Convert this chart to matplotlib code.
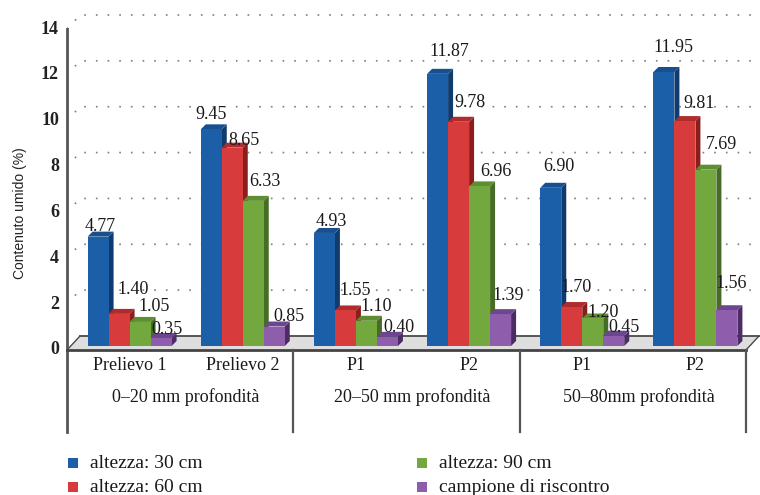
import matplotlib
matplotlib.use("Agg")
import matplotlib.pyplot as plt
from matplotlib.patches import Polygon, Rectangle

# ---- data -------------------------------------------------------------
categories = ["Prelievo 1", "Prelievo 2", "P1", "P2", "P1", "P2"]
depth_groups = ["0–20 mm profondità", "20–50 mm profondità", "50–80mm profondità"]
series_names = ["altezza: 30 cm", "altezza: 60 cm", "altezza: 90 cm",
                "campione di riscontro"]
h30 = [4.77, 9.45, 4.93, 11.87, 6.90, 11.95]
h60 = [1.40, 8.65, 1.55, 9.78, 1.70, 9.81]
h90 = [1.05, 6.33, 1.10, 6.96, 1.20, 7.69]
control = [0.35, 0.85, 0.40, 1.39, 0.45, 1.56]
y_ticks = [0, 2, 4, 6, 8, 10, 12, 14]

series = [h30, h60, h90, control]
# (front, side, top) shades per series
colors = [("#1c5fa9", "#0f3b6f", "#18508f"),
          ("#d83b3b", "#8b1d1d", "#b02c2c"),
          ("#73a83f", "#476c25", "#5e8e31"),
          ("#8e5ead", "#4c2c65", "#6d4690")]

# hand-placed value labels: (right, up) shift in pixels from the top of each bar
label_shift = [
    [(2, 10), (0, 15), (7, 11), (12, 22), (8, 21), (9, 25)],
    [(14, 24), (12, 7), (10, 20), (11, 19), (4, 20), (14, 18)],
    [(14, 15), (12, 19), (10, 14), (16, 15), (10, 6), (16, 25)],
    [(6, 8), (15, 10), (12, 9), (8, 19), (10, 8), (4, 27)],
]

serif = "Liberation Serif"
sans = "Liberation Sans"

W, H, DPI = 760, 495, 100
fig = plt.figure(figsize=(W / DPI, H / DPI), dpi=DPI)
fig.patch.set_facecolor("white")

# front plane of the plot box in pixels
x_left, x_right, y_zero, y_top = 67, 746, 350, 29
ax = fig.add_axes([x_left / W, (H - y_zero) / H,
                   (x_right - x_left) / W, (y_zero - y_top) / H])
n = len(categories)
ax.set_xlim(-0.5, n - 0.5)
ax.set_ylim(0, 14)
ax.axis("off")

# pixel -> data unit helpers
sx = (x_right - x_left) / n          # pixels per category
sy = (y_zero - y_top) / 14.0         # pixels per unit value
px = lambda p: p / sx
py = lambda p: p / sy

# depth offsets (pixels)
back_dx, back_dy = 13, 14           # back wall
bar_dx, bar_dy = 6, 4               # plane of the bars
bar_depth = 5                       # thickness of each bar
bar_w = px(21)

axis_col = "#555555"

# ---- floor ------------------------------------------------------------
fl = [(-0.5, 0), (n - 0.5, 0), (n - 0.5 + px(back_dx), py(back_dy)),
      (-0.5 + px(back_dx), py(back_dy))]
ax.add_patch(Polygon(fl, closed=True, facecolor="#dedede", edgecolor="none",
                     clip_on=False, zorder=1))
ax.plot([fl[3][0], fl[2][0]], [fl[3][1], fl[2][1]], color="#4a4a4a", lw=1.3,
        clip_on=False, zorder=1.5)
ax.plot([fl[0][0], fl[3][0]], [fl[0][1], fl[3][1]], color="#4a4a4a", lw=1.0,
        clip_on=False, zorder=1.5)
ax.plot([fl[1][0], fl[2][0]], [fl[1][1], fl[2][1]], color="#4a4a4a", lw=1.0,
        clip_on=False, zorder=1.5)

# ---- dotted gridlines on the back wall ----------------------------------
x_far = -0.5 + px(W - x_left)
for v in y_ticks[1:]:
    ax.plot([-0.5, -0.5 + px(back_dx), x_far],
            [v, v + py(back_dy), v + py(back_dy)],
            color="#7f7f7f", lw=1.2, ls=(0, (1, 6)), clip_on=False, zorder=0.5)

# ---- bars ---------------------------------------------------------------
d_x, d_y = px(bar_depth), py(bar_depth)
base = py(bar_dy)
for i in range(n):
    start = i - 2 * bar_w + px(bar_dx)
    for k, vals in enumerate(series):
        v = vals[i]
        x0 = start + k * bar_w
        x1 = x0 + bar_w
        top = base + v
        front_c, side_c, top_c = colors[k]
        z = 3 + i * 0.1 + k * 0.01
        ax.add_patch(Polygon([(x1, base), (x1 + d_x, base + d_y),
                              (x1 + d_x, top + d_y), (x1, top)],
                             closed=True, facecolor=side_c, edgecolor="none",
                             zorder=z))
        ax.add_patch(Polygon([(x0, top), (x1, top), (x1 + d_x, top + d_y),
                              (x0 + d_x, top + d_y)],
                             closed=True, facecolor=top_c, edgecolor="none",
                             zorder=z))
        ax.add_patch(Rectangle((x0, base), bar_w, v, facecolor=front_c,
                               edgecolor="none", zorder=z + 0.001))
        sh_x, sh_y = label_shift[k][i]
        ax.annotate(f"{v:.2f}", xy=((x0 + x1) / 2, top), xytext=(sh_x, sh_y),
                    textcoords="offset pixels", ha="center", va="center",
                    fontsize=13, family=serif, color="#1a1a1a", zorder=10)

# ---- axis frame -----------------------------------------------------------
y_low = -py(82)
ax.plot([-0.5, -0.5], [14, y_low], color=axis_col, lw=2.0, clip_on=False,
        zorder=6)
ax.plot([-0.5, n - 0.5], [0, 0], color="#444444", lw=2.0, clip_on=False,
        zorder=6)
for xb in [1.5, 3.5, 5.5]:
    ax.plot([xb, xb], [0, y_low], color=axis_col, lw=1.6, clip_on=False,
            zorder=6)

# y tick labels
for v in y_ticks:
    ax.annotate(str(v), xy=(-0.5, v), xytext=(-8, 0), textcoords="offset pixels",
                ha="right", va="center", fontsize=13, family=serif,
                color="#222222", fontweight="bold")

# category labels
for i, c in enumerate(categories):
    ax.annotate(c, xy=(i + px(bar_dx), 0), xytext=(0, -16),
                textcoords="offset pixels", ha="center", va="center",
                fontsize=13, family=serif, color="#1a1a1a")
for j, g in enumerate(depth_groups):
    ax.annotate(g, xy=(2 * j + 0.5 + px(bar_dx), 0), xytext=(0, -47),
                textcoords="offset pixels", ha="center", va="center",
                fontsize=13, family=serif, color="#1a1a1a")

# y axis title
fig.text(20 / W, 1 - 213 / H, "Contenuto umido (%)", rotation=90,
         ha="center", va="center", fontsize=10, family=sans, color="#222222")

# ---- legend -----------------------------------------------------------------
legend_slots = [(68, 463), (68, 487), (417, 463), (417, 487)]
for (lx, ly), name, (fc, _, _) in zip(legend_slots, series_names, colors):
    fig.patches.append(Rectangle((lx / W, 1 - (ly + 5) / H), 10 / W, 10 / H,
                                 transform=fig.transFigure, facecolor=fc,
                                 edgecolor="none"))
    fig.text((lx + 22) / W, 1 - ly / H, name, ha="left", va="center",
             fontsize=14, family=serif, color="#1a1a1a")

fig.savefig("out.png", dpi=DPI, facecolor="white")
